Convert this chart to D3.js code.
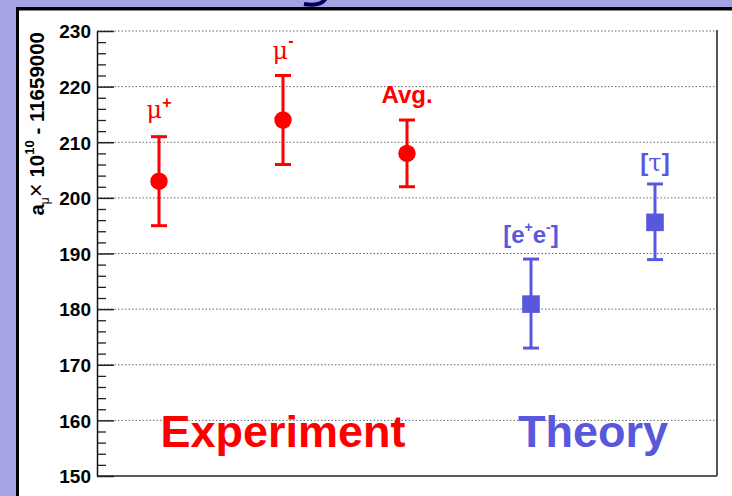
<!DOCTYPE html>
<html><head><meta charset="utf-8">
<script src="https://cdn.jsdelivr.net/npm/d3@7"></script>
<style>html,body{margin:0;padding:0;background:#a4a4e4;}svg{display:block;}</style>
</head><body>
<svg id="c" width="732" height="496"></svg>
<script>
// ---- data ----
const pointNames = ["mu+", "mu-", "Avg.", "ee", "tau"];
const groups = ["Experiment", "Experiment", "Experiment", "Theory", "Theory"];
const values = [203, 214, 208, 180.9, 195.6];
const lowVals = [195, 206, 202, 173, 188.9];
const highVals = [211, 222, 214, 189, 202.5];
const positions = [0.5, 1.5, 2.5, 3.5, 4.5];
const yTicks = [150, 160, 170, 180, 190, 200, 210, 220, 230];
const groupLabels = ["Experiment", "Theory"];
const groupLabelPos = [1.5, 4.0];

const RED = "#ff0000", BLUE = "#5858dc";
const svg = d3.select("#c");

// background frame
svg.append("rect").attr("x",0).attr("y",0).attr("width",732).attr("height",496).attr("fill","#a4a4e4");
// tail of cut-off title glyph
svg.append("path").attr("d","M326,-2 Q321,7 304,4").attr("fill","none").attr("stroke","#00005a").attr("stroke-width",4);
svg.append("rect").attr("x",16).attr("y",7).attr("width",716).attr("height",489).attr("fill","#000");
svg.append("rect").attr("x",19).attr("y",10.5).attr("width",713).attr("height",486).attr("fill","#fff");

const x = d3.scaleLinear().domain([0,5]).range([97,717]);
const y = d3.scaleLinear().domain([150,230]).range([476,31]);
const color = g => g === "Experiment" ? RED : BLUE;

// grid
svg.append("g").selectAll("line").data(yTicks.filter(t => t > 150)).join("line")
  .attr("x1",x(0)).attr("x2",x(5)).attr("y1",d=>y(d)).attr("y2",d=>y(d))
  .attr("stroke","#666").attr("stroke-width",1).attr("stroke-dasharray","1.5,2");

// minor ticks
const minor = d3.range(150,230.01,2).filter(v => v % 10 !== 0);
svg.append("g").attr("transform",`translate(${x(0)},0)`)
  .call(d3.axisLeft(y).tickValues(minor).tickSize(-9).tickFormat(""))
  .call(g => g.select(".domain").remove())
  .call(g => g.selectAll("line").attr("stroke","#222").attr("stroke-width",1.3));
// major axis
svg.append("g").attr("transform",`translate(${x(0)},0)`)
  .call(d3.axisLeft(y).tickValues(yTicks).tickSize(-17).tickSizeOuter(0).tickPadding(6))
  .call(g => g.select(".domain").attr("stroke","#111").attr("stroke-width",1.5))
  .call(g => g.selectAll("line").attr("stroke","#222").attr("stroke-width",1.5))
  .call(g => g.selectAll("text").attr("font-family","Liberation Sans").attr("font-weight","bold")
      .attr("font-size",19).attr("fill","#000").attr("dy","0.36em"));

// bottom & right frame
svg.append("line").attr("x1",x(0)).attr("x2",x(5)).attr("y1",y(150)).attr("y2",y(150)).attr("stroke","#222").attr("stroke-width",1.5);
svg.append("line").attr("x1",x(5)).attr("x2",x(5)).attr("y1",y(230)-1).attr("y2",y(150)).attr("stroke","#555").attr("stroke-width",2);

// y title
const yt = svg.append("text").attr("transform",`translate(44,32) rotate(-90)`).attr("text-anchor","end")
  .attr("font-family","Liberation Sans").attr("font-weight","bold").attr("font-size",20.5).attr("fill","#000");
yt.append("tspan").text("a");
yt.append("tspan").attr("font-size",12).attr("dy",5).attr("font-weight","normal").text("μ");
yt.append("tspan").attr("dy",-5).attr("font-weight","normal").attr("font-size",24).text("×");
yt.append("tspan").text(" 10");
yt.append("tspan").attr("font-size",13).attr("dy",-10).text("10");
yt.append("tspan").attr("dy",10).text(" - 11659000");

// error bars
const idx = d3.range(values.length);
const eb = svg.append("g");
eb.selectAll("line.v").data(idx).join("line").attr("class","v")
  .attr("x1",i=>x(positions[i])).attr("x2",i=>x(positions[i]))
  .attr("y1",i=>y(lowVals[i])).attr("y2",i=>y(highVals[i]))
  .attr("stroke",i=>color(groups[i])).attr("stroke-width",3);
[lowVals, highVals].forEach(arr => {
  eb.append("g").selectAll("line").data(idx).join("line")
    .attr("x1",i=>x(positions[i])-8).attr("x2",i=>x(positions[i])+8)
    .attr("y1",i=>y(arr[i])).attr("y2",i=>y(arr[i]))
    .attr("stroke",i=>color(groups[i])).attr("stroke-width",3);
});
// markers
svg.append("g").selectAll("circle").data(idx.filter(i=>groups[i]==="Experiment")).join("circle")
  .attr("cx",i=>x(positions[i])).attr("cy",i=>y(values[i])).attr("r",8.7).attr("fill",RED);
svg.append("g").selectAll("rect").data(idx.filter(i=>groups[i]==="Theory")).join("rect")
  .attr("x",i=>x(positions[i])-8.8).attr("y",i=>y(values[i])-8.8).attr("width",17.6).attr("height",17.6).attr("fill",BLUE);

// point labels
function label(i, dy) {
  return svg.append("text").attr("x",x(positions[i])).attr("y",y(highVals[i])-dy)
    .attr("text-anchor","middle").attr("fill",color(groups[i]))
    .attr("font-family","Liberation Sans").attr("font-size",23);
}
let t;
t = label(0,19); t.append("tspan").attr("font-family","DejaVu Serif").attr("font-size",24).text("μ");
t.append("tspan").attr("dy",-10).attr("font-size",16).attr("font-weight","bold").text("+");
t = label(1,17); t.append("tspan").attr("font-family","DejaVu Serif").attr("font-size",24).text("μ");
t.append("tspan").attr("dy",-13).attr("font-size",16).attr("font-weight","bold").text("-");
t = label(2,17); t.attr("font-weight","bold").attr("font-size",24).text("Avg.");
t = label(3,16); t.attr("font-weight","bold").attr("font-size",24);
t.append("tspan").text("[e");
t.append("tspan").attr("dy",-11).attr("font-size",14).text("+");
t.append("tspan").attr("dy",11).text("e");
t.append("tspan").attr("dy",-11).attr("font-size",14).text("-");
t.append("tspan").attr("dy",11).text("]");
t = label(4,13); t.attr("font-weight","bold").attr("font-size",24);
t.append("tspan").text("[");
t.append("tspan").attr("font-weight","normal").attr("font-family","DejaVu Serif").text("τ");
t.append("tspan").text("]");

// group labels
svg.append("g").selectAll("text").data(groupLabels).join("text")
  .attr("x",(d,i)=>x(groupLabelPos[i])).attr("y",447).attr("text-anchor","middle")
  .attr("font-family","Liberation Sans").attr("font-weight","bold").attr("font-size",45)
  .attr("fill",d=>color(d)).text(d=>d);
</script>
</body></html>
